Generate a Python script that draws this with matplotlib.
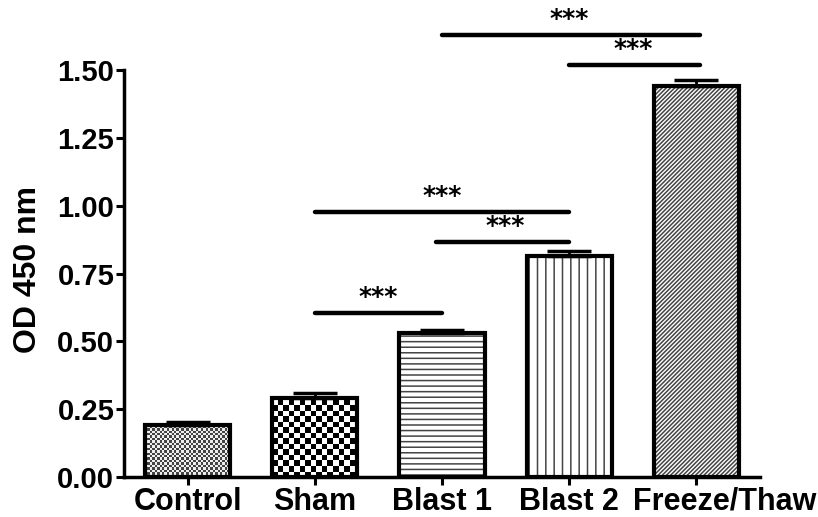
import numpy as np
import matplotlib.pyplot as plt
from matplotlib.colors import ListedColormap
from matplotlib.transforms import ScaledTranslation

plt.rcParams['font.family'] = ['Liberation Sans', 'DejaVu Sans']
plt.rcParams['font.weight'] = 'bold'
plt.rcParams['hatch.linewidth'] = 1.1

# data
groups = ['Control', 'Sham', 'Blast 1', 'Blast 2', 'Freeze/Thaw']
od_mean = [0.192, 0.291, 0.531, 0.815, 1.441]
od_sem = [0.012, 0.018, 0.010, 0.018, 0.022]
# significance brackets: (left group, right group, height)
sig_pairs = [(1, 2, 0.604), (2, 3, 0.866), (1, 3, 0.977), (3, 4, 1.519), (2, 4, 1.629)]
sig_label = '***'

fig = plt.figure(figsize=(8.18, 5.17), dpi=100)
ax = fig.add_axes([0.1516, 0.0774, 0.7775, 0.892])

x = np.arange(len(groups))
width = 0.67


def checker_fill(ax, bar, cell_px, dark, light):
    # checkerboard pattern clipped to the bar, cell size given in pixels
    x0, y0 = bar.get_x(), bar.get_y()
    w, h = bar.get_width(), bar.get_height()
    p0 = ax.transData.transform((x0, y0))
    p1 = ax.transData.transform((x0 + w, y0 + h))
    wpx, hpx = abs(p1[0] - p0[0]), abs(p1[1] - p0[1])
    nx = int(np.ceil(wpx / cell_px))
    ny = int(np.ceil(hpx / cell_px))
    board = (np.add.outer(np.arange(ny), np.arange(nx)) % 2).astype(float)
    img = ax.imshow(board, cmap=ListedColormap([dark, light]),
                    extent=[x0, x0 + nx * cell_px * w / wpx, y0, y0 + ny * cell_px * h / hpx],
                    origin='lower', interpolation='nearest', aspect='auto', zorder=1)
    img.set_clip_path(bar)


ax.set_xlim(-0.5, len(groups) - 0.5)
ax.set_ylim(0, 1.7)

hatches = [None, None, '---', '||', '////////']
bars = ax.bar(x, od_mean, width=width, color='white', edgecolor='#444444',
              linewidth=0, zorder=1)
for b, h in zip(bars, hatches):
    if h:
        b.set_hatch(h)
checker_fill(ax, bars[0], 2.4, '#444444', '#eeeeee')
checker_fill(ax, bars[1], 5.5, 'black', 'white')

# outlines on top
ax.bar(x, od_mean, width=width, color='none', edgecolor='black', linewidth=3, zorder=3)
ax.errorbar(x, od_mean, yerr=[np.zeros(len(x)), od_sem], fmt='none', ecolor='black',
            elinewidth=2, capsize=15.5, capthick=2.5, zorder=4)

ax.set_xlim(-0.5, len(groups) - 0.5)
ax.set_ylim(0, 1.7)

for i, j, h in sig_pairs:
    x_left = x[i] - 0.05 if (i, j) == (2, 3) else x[i]
    x_right = x[j] + 0.03 if j == 4 else x[j]
    ax.plot([x_left, x_right], [h, h], color='black', lw=3.2,
            solid_capstyle='round', zorder=4)
    ax.text((x[i] + x[j]) / 2, h + 0.015, sig_label, ha='center', va='bottom',
            fontsize=18, fontweight='bold', family='DejaVu Sans')

ax.set_yticks([0, 0.25, 0.5, 0.75, 1.0, 1.25, 1.5])
ax.set_yticklabels(['0.00', '0.25', '0.50', '0.75', '1.00', '1.25', '1.50'])
ax.set_xticks(x)
ax.set_xticklabels(groups)
ax.tick_params(axis='both', width=2.2, length=6, direction='out', pad=1)
ax.tick_params(axis='y', labelsize=21)
ax.tick_params(axis='x', labelsize=22)
ax.set_ylabel('OD 450 nm', fontsize=23, fontweight='bold')
ax.yaxis.set_label_coords(-0.128, 0.45)

# last label sits to the right of its tick so it clears "Blast 2"
last = ax.get_xticklabels()[-1]
last.set_transform(last.get_transform() + ScaledTranslation(0.28, 0, fig.dpi_scale_trans))

ax.spines['top'].set_visible(False)
ax.spines['right'].set_visible(False)
ax.spines['left'].set_linewidth(2.5)
ax.spines['bottom'].set_linewidth(2.5)
ax.spines['left'].set_bounds(0, 1.5)

fig.savefig('out.png', dpi=100)
